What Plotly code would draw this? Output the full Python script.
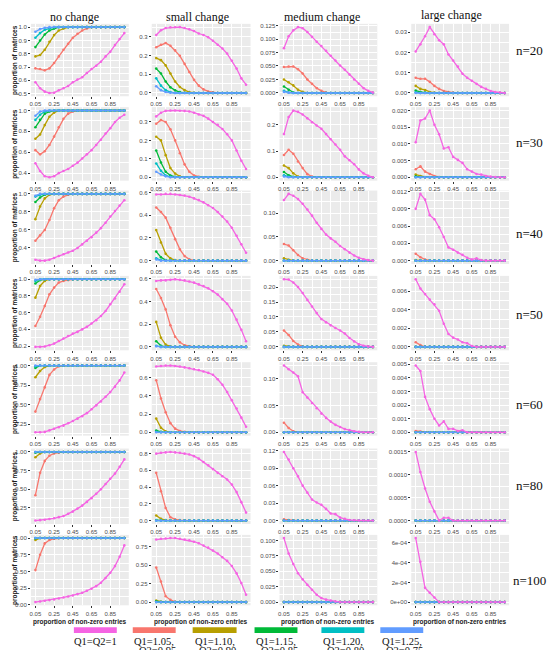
import math
import plotly.graph_objects as go

# ---------------- data ----------------
X = [0.05, 0.10, 0.15, 0.20, 0.25, 0.30, 0.35, 0.40, 0.45, 0.50,
     0.55, 0.60, 0.65, 0.70, 0.75, 0.80, 0.85, 0.90, 0.95, 1.00]
X_TICKS = [0.05, 0.25, 0.45, 0.65, 0.85]
SERIES_LINE1 = ["Q1=Q2=1", "Q1=1.05,", "Q1=1.10,", "Q1=1.15,", "Q1=1.20,", "Q1=1.25,"]
SERIES_LINE2 = ["", "Q2=0.95", "Q2=0.90", "Q2=0.85", "Q2=0.80", "Q2=0.75"]
COLUMNS = ["no change", "small change", "medium change", "large change"]
ROWS = ["n=20", "n=30", "n=40", "n=50", "n=60", "n=80", "n=100"]

# each panel: [Q1=Q2=1, 1.05, 1.10, 1.15, 1.20, 1.25]
n20_none = [
    [0.586, 0.54, 0.515, 0.505, 0.507,  0.525, 0.54, 0.557, 0.586, 0.606,  0.623, 0.655, 0.685, 0.71, 0.74,  0.78, 0.815, 0.865, 0.91, 0.955],
    [0.69, 0.685, 0.675, 0.69, 0.73,  0.78, 0.83, 0.875, 0.92, 0.95,  0.975, 0.99, 1, 1, 1,  1, 1, 1, 1, 1],
    [0.78, 0.79, 0.83, 0.89, 0.94,  0.975, 0.99, 1, 1, 1,  1, 1, 1, 1, 1,  1, 1, 1, 1, 1],
    [0.85, 0.90, 0.945, 0.975, 0.99,  1, 1, 1, 1, 1,  1, 1, 1, 1, 1,  1, 1, 1, 1, 1],
    [0.92, 0.955, 0.98, 0.99, 1,  1, 1, 1, 1, 1,  1, 1, 1, 1, 1,  1, 1, 1, 1, 1],
    [0.965, 0.985, 0.995, 1, 1,  1, 1, 1, 1, 1,  1, 1, 1, 1, 1,  1, 1, 1, 1, 1],
]
n20_small = [
    [0.309, 0.334, 0.346, 0.35, 0.35,  0.351, 0.346, 0.339, 0.33, 0.317,  0.309, 0.297, 0.278, 0.257, 0.237,  0.21, 0.172, 0.13, 0.078, 0.044],
    [0.244, 0.257, 0.266, 0.252, 0.227,  0.198, 0.155, 0.112, 0.07, 0.039,  0.019, 0.008, 0.003, 0, 0,  0, 0, 0, 0, 0],
    [0.186, 0.175, 0.147, 0.104, 0.061,  0.032, 0.015, 0.005, 0.001, 0,  0, 0, 0, 0, 0,  0, 0, 0, 0, 0],
    [0.13, 0.104, 0.061, 0.03, 0.014,  0.005, 0.001, 0, 0, 0,  0, 0, 0, 0, 0,  0, 0, 0, 0, 0],
    [0.078, 0.039, 0.015, 0.005, 0,  0, 0, 0, 0, 0,  0, 0, 0, 0, 0,  0, 0, 0, 0, 0],
    [0.036, 0.015, 0.005, 0.001, 0,  0, 0, 0, 0, 0,  0, 0, 0, 0, 0,  0, 0, 0, 0, 0],
]
n20_medium = [
    [0.083, 0.105, 0.116, 0.122, 0.120,  0.113, 0.104, 0.095, 0.087, 0.078,  0.069, 0.060, 0.051, 0.043, 0.034,  0.025, 0.017, 0.009, 0.004, 0.001],
    [0.048, 0.049, 0.049, 0.044, 0.036,  0.025, 0.017, 0.009, 0.004, 0.001,  0, 0, 0, 0, 0,  0, 0, 0, 0, 0],
    [0.025, 0.020, 0.014, 0.006, 0.002,  0, 0, 0, 0, 0,  0, 0, 0, 0, 0,  0, 0, 0, 0, 0],
    [0.012, 0.006, 0.001, 0, 0,  0, 0, 0, 0, 0,  0, 0, 0, 0, 0,  0, 0, 0, 0, 0],
    [0.004, 0.001, 0, 0, 0,  0, 0, 0, 0, 0,  0, 0, 0, 0, 0,  0, 0, 0, 0, 0],
    [0.002, 0.0005, 0, 0, 0,  0, 0, 0, 0, 0,  0, 0, 0, 0, 0,  0, 0, 0, 0, 0],
]
n20_large = [
    [0.0205, 0.024, 0.028, 0.0325, 0.029,  0.026, 0.024, 0.019, 0.016, 0.013,  0.0095, 0.0075, 0.006, 0.0045, 0.003,  0.002, 0.001, 0.0005, 0.0002, 0],
    [0.0075, 0.007, 0.007, 0.0055, 0.0035,  0.002, 0.001, 0.0005, 0.0002, 0,  0, 0, 0, 0, 0,  0, 0, 0, 0, 0],
    [0.0035, 0.002, 0.0015, 0.0005, 0.0002,  0, 0, 0, 0, 0,  0, 0, 0, 0, 0,  0, 0, 0, 0, 0],
    [0.0012, 0.0005, 0.0002, 0, 0,  0, 0, 0, 0, 0,  0, 0, 0, 0, 0,  0, 0, 0, 0, 0],
    [0.0003, 0, 0, 0, 0,  0, 0, 0, 0, 0,  0, 0, 0, 0, 0,  0, 0, 0, 0, 0],
    [0, 0, 0, 0, 0,  0, 0, 0, 0, 0,  0, 0, 0, 0, 0,  0, 0, 0, 0, 0],
]

n30_none = [
    [0.495, 0.42, 0.37, 0.36, 0.37,  0.40, 0.42, 0.44, 0.47, 0.50,  0.54, 0.58, 0.62, 0.67, 0.72,  0.78, 0.83, 0.89, 0.93, 0.96],
    [0.62, 0.58, 0.61, 0.67, 0.75,  0.84, 0.92, 0.97, 0.99, 1,  1, 1, 1, 1, 1,  1, 1, 1, 1, 1],
    [0.73, 0.77, 0.86, 0.94, 0.98,  1, 1, 1, 1, 1,  1, 1, 1, 1, 1,  1, 1, 1, 1, 1],
    [0.84, 0.91, 0.97, 0.99, 1,  1, 1, 1, 1, 1,  1, 1, 1, 1, 1,  1, 1, 1, 1, 1],
    [0.91, 0.96, 0.99, 1, 1,  1, 1, 1, 1, 1,  1, 1, 1, 1, 1,  1, 1, 1, 1, 1],
    [0.95, 0.99, 1, 1, 1,  1, 1, 1, 1, 1,  1, 1, 1, 1, 1,  1, 1, 1, 1, 1],
]
n30_small = [
    [0.33, 0.35, 0.36, 0.362, 0.362,  0.361, 0.36, 0.357, 0.35, 0.34,  0.333, 0.318, 0.30, 0.284, 0.262,  0.233, 0.20, 0.145, 0.09, 0.045],
    [0.29, 0.31, 0.30, 0.26, 0.20,  0.13, 0.07, 0.03, 0.01, 0.003,  0, 0, 0, 0, 0,  0, 0, 0, 0, 0],
    [0.22, 0.20, 0.12, 0.05, 0.02,  0.005, 0, 0, 0, 0,  0, 0, 0, 0, 0,  0, 0, 0, 0, 0],
    [0.145, 0.08, 0.03, 0.01, 0.002,  0, 0, 0, 0, 0,  0, 0, 0, 0, 0,  0, 0, 0, 0, 0],
    [0.075, 0.035, 0.01, 0.002, 0,  0, 0, 0, 0, 0,  0, 0, 0, 0, 0,  0, 0, 0, 0, 0],
    [0.03, 0.015, 0.005, 0, 0,  0, 0, 0, 0, 0,  0, 0, 0, 0, 0,  0, 0, 0, 0, 0],
]
n30_medium = [
    [0.165, 0.23, 0.255, 0.25, 0.24,  0.225, 0.21, 0.198, 0.185, 0.165,  0.145, 0.125, 0.105, 0.08, 0.065,  0.05, 0.03, 0.015, 0.006, 0],
    [0.085, 0.105, 0.09, 0.06, 0.035,  0.012, 0.003, 0, 0, 0,  0, 0, 0, 0, 0,  0, 0, 0, 0, 0],
    [0.045, 0.035, 0.015, 0.003, 0,  0, 0, 0, 0, 0,  0, 0, 0, 0, 0,  0, 0, 0, 0, 0],
    [0.02, 0.008, 0.002, 0, 0,  0, 0, 0, 0, 0,  0, 0, 0, 0, 0,  0, 0, 0, 0, 0],
    [0.008, 0.002, 0, 0, 0,  0, 0, 0, 0, 0,  0, 0, 0, 0, 0,  0, 0, 0, 0, 0],
    [0.003, 0, 0, 0, 0,  0, 0, 0, 0, 0,  0, 0, 0, 0, 0,  0, 0, 0, 0, 0],
]
n30_large = [
    [0.0105, 0.017, 0.0176, 0.020, 0.0157,  0.0129, 0.0086, 0.009, 0.0061, 0.0052,  0.0043, 0.0024, 0.0017, 0.001, 0.0008,  0.0004, 0.0002, 0.0001, 0, 0],
    [0.0024, 0.0033, 0.0017, 0.001, 0.0004,  0.0001, 0, 0, 0, 0,  0, 0, 0, 0, 0,  0, 0, 0, 0, 0],
    [0.0008, 0.0004, 0.0001, 0, 0,  0, 0, 0, 0, 0,  0, 0, 0, 0, 0,  0, 0, 0, 0, 0],
    [0.0003, 0.0001, 0, 0, 0,  0, 0, 0, 0, 0,  0, 0, 0, 0, 0,  0, 0, 0, 0, 0],
    [0, 0, 0, 0, 0,  0, 0, 0, 0, 0,  0, 0, 0, 0, 0,  0, 0, 0, 0, 0],
    [0, 0, 0, 0, 0,  0, 0, 0, 0, 0,  0, 0, 0, 0, 0,  0, 0, 0, 0, 0],
]

n40_none = [
    [0.27, 0.26, 0.26, 0.27, 0.29,  0.31, 0.33, 0.35, 0.37, 0.40,  0.44, 0.48, 0.52, 0.57, 0.62,  0.68, 0.75, 0.81, 0.87, 0.93],
    [0.48, 0.54, 0.60, 0.71, 0.84,  0.93, 0.97, 0.99, 1, 1,  1, 1, 1, 1, 1,  1, 1, 1, 1, 1],
    [0.72, 0.86, 0.95, 0.99, 1,  1, 1, 1, 1, 1,  1, 1, 1, 1, 1,  1, 1, 1, 1, 1],
    [0.91, 0.96, 0.99, 1, 1,  1, 1, 1, 1, 1,  1, 1, 1, 1, 1,  1, 1, 1, 1, 1],
    [0.97, 0.99, 1, 1, 1,  1, 1, 1, 1, 1,  1, 1, 1, 1, 1,  1, 1, 1, 1, 1],
    [0.98, 1, 1, 1, 1,  1, 1, 1, 1, 1,  1, 1, 1, 1, 1,  1, 1, 1, 1, 1],
]
n40_small = [
    [0.585, 0.585, 0.59, 0.59, 0.585,  0.58, 0.575, 0.565, 0.55, 0.535,  0.515, 0.49, 0.465, 0.43, 0.39,  0.345, 0.29, 0.22, 0.145, 0.07],
    [0.47, 0.43, 0.38, 0.29, 0.19,  0.10, 0.04, 0.012, 0.003, 0,  0, 0, 0, 0, 0,  0, 0, 0, 0, 0],
    [0.27, 0.16, 0.06, 0.02, 0.005,  0, 0, 0, 0, 0,  0, 0, 0, 0, 0,  0, 0, 0, 0, 0],
    [0.08, 0.03, 0.005, 0, 0,  0, 0, 0, 0, 0,  0, 0, 0, 0, 0,  0, 0, 0, 0, 0],
    [0.02, 0.005, 0, 0, 0,  0, 0, 0, 0, 0,  0, 0, 0, 0, 0,  0, 0, 0, 0, 0],
    [0.01, 0, 0, 0, 0,  0, 0, 0, 0, 0,  0, 0, 0, 0, 0,  0, 0, 0, 0, 0],
]
n40_medium = [
    [0.128, 0.141, 0.137, 0.13, 0.12,  0.108, 0.095, 0.08, 0.067, 0.055,  0.047, 0.04, 0.031, 0.024, 0.017,  0.011, 0.006, 0.003, 0.001, 0],
    [0.035, 0.032, 0.022, 0.012, 0.005,  0.002, 0, 0, 0, 0,  0, 0, 0, 0, 0,  0, 0, 0, 0, 0],
    [0.005, 0.002, 0, 0, 0,  0, 0, 0, 0, 0,  0, 0, 0, 0, 0,  0, 0, 0, 0, 0],
    [0, 0, 0, 0, 0,  0, 0, 0, 0, 0,  0, 0, 0, 0, 0,  0, 0, 0, 0, 0],
    [0, 0, 0, 0, 0,  0, 0, 0, 0, 0,  0, 0, 0, 0, 0,  0, 0, 0, 0, 0],
    [0, 0, 0, 0, 0,  0, 0, 0, 0, 0,  0, 0, 0, 0, 0,  0, 0, 0, 0, 0],
]
n40_large = [
    [0.009, 0.0116, 0.0106, 0.0079, 0.0072,  0.0058, 0.0041, 0.0023, 0.0019, 0.0014,  0.001, 0.0005, 0.0002, 0.0004, 0.0001,  0, 0, 0, 0, 0],
    [0.0012, 0.0006, 0.0002, 0, 0,  0, 0, 0, 0, 0,  0, 0, 0, 0, 0,  0, 0, 0, 0, 0],
    [0.0001, 0, 0, 0, 0,  0, 0, 0, 0, 0,  0, 0, 0, 0, 0,  0, 0, 0, 0, 0],
    [0, 0, 0, 0, 0,  0, 0, 0, 0, 0,  0, 0, 0, 0, 0,  0, 0, 0, 0, 0],
    [0, 0, 0, 0, 0,  0, 0, 0, 0, 0,  0, 0, 0, 0, 0,  0, 0, 0, 0, 0],
    [0, 0, 0, 0, 0,  0, 0, 0, 0, 0,  0, 0, 0, 0, 0,  0, 0, 0, 0, 0],
]

n50_none = [
    [0.19, 0.19, 0.195, 0.21, 0.23,  0.26, 0.29, 0.32, 0.35, 0.37,  0.40, 0.43, 0.47, 0.51, 0.56,  0.62, 0.70, 0.77, 0.85, 0.94],
    [0.44, 0.55, 0.68, 0.82, 0.90,  0.96, 0.98, 0.99, 1, 1,  1, 1, 1, 1, 1,  1, 1, 1, 1, 1],
    [0.78, 0.92, 0.98, 1, 1,  1, 1, 1, 1, 1,  1, 1, 1, 1, 1,  1, 1, 1, 1, 1],
    [0.95, 0.99, 1, 1, 1,  1, 1, 1, 1, 1,  1, 1, 1, 1, 1,  1, 1, 1, 1, 1],
    [0.98, 1, 1, 1, 1,  1, 1, 1, 1, 1,  1, 1, 1, 1, 1,  1, 1, 1, 1, 1],
    [0.995, 1, 1, 1, 1,  1, 1, 1, 1, 1,  1, 1, 1, 1, 1,  1, 1, 1, 1, 1],
]
n50_small = [
    [0.58, 0.585, 0.585, 0.59, 0.595,  0.59, 0.585, 0.575, 0.565, 0.55,  0.535, 0.515, 0.49, 0.46, 0.42,  0.38, 0.32, 0.24, 0.15, 0.05],
    [0.51, 0.43, 0.33, 0.19, 0.09,  0.04, 0.015, 0.005, 0, 0,  0, 0, 0, 0, 0,  0, 0, 0, 0, 0],
    [0.22, 0.08, 0.02, 0.005, 0,  0, 0, 0, 0, 0,  0, 0, 0, 0, 0,  0, 0, 0, 0, 0],
    [0.05, 0.01, 0, 0, 0,  0, 0, 0, 0, 0,  0, 0, 0, 0, 0,  0, 0, 0, 0, 0],
    [0.01, 0, 0, 0, 0,  0, 0, 0, 0, 0,  0, 0, 0, 0, 0,  0, 0, 0, 0, 0],
    [0.005, 0, 0, 0, 0,  0, 0, 0, 0, 0,  0, 0, 0, 0, 0,  0, 0, 0, 0, 0],
]
n50_medium = [
    [0.226, 0.225, 0.215, 0.2, 0.18,  0.157, 0.135, 0.113, 0.093, 0.082,  0.072, 0.063, 0.055, 0.045, 0.03,  0.018, 0.009, 0.004, 0.001, 0],
    [0.055, 0.04, 0.02, 0.008, 0.002,  0, 0, 0, 0, 0,  0, 0, 0, 0, 0,  0, 0, 0, 0, 0],
    [0.004, 0.001, 0, 0, 0,  0, 0, 0, 0, 0,  0, 0, 0, 0, 0,  0, 0, 0, 0, 0],
    [0, 0, 0, 0, 0,  0, 0, 0, 0, 0,  0, 0, 0, 0, 0,  0, 0, 0, 0, 0],
    [0, 0, 0, 0, 0,  0, 0, 0, 0, 0,  0, 0, 0, 0, 0,  0, 0, 0, 0, 0],
    [0, 0, 0, 0, 0,  0, 0, 0, 0, 0,  0, 0, 0, 0, 0,  0, 0, 0, 0, 0],
]
n50_large = [
    [0.0073, 0.0063, 0.0057, 0.0051, 0.0046,  0.0039, 0.0025, 0.0014, 0.001, 0.0008,  0.0005, 0.0004, 0.0001, 0, 0,  0, 0, 0, 0, 0],
    [0.0005, 0.0002, 0, 0, 0,  0, 0, 0, 0, 0,  0, 0, 0, 0, 0,  0, 0, 0, 0, 0],
    [0, 0, 0, 0, 0,  0, 0, 0, 0, 0,  0, 0, 0, 0, 0,  0, 0, 0, 0, 0],
    [0, 0, 0, 0, 0,  0, 0, 0, 0, 0,  0, 0, 0, 0, 0,  0, 0, 0, 0, 0],
    [0, 0, 0, 0, 0,  0, 0, 0, 0, 0,  0, 0, 0, 0, 0,  0, 0, 0, 0, 0],
    [0, 0, 0, 0, 0,  0, 0, 0, 0, 0,  0, 0, 0, 0, 0,  0, 0, 0, 0, 0],
]

n60_none = [
    [0.145, 0.145, 0.15, 0.17, 0.19,  0.21, 0.23, 0.26, 0.29, 0.32,  0.35, 0.39, 0.44, 0.49, 0.54,  0.60, 0.66, 0.73, 0.81, 0.91],
    [0.41, 0.57, 0.72, 0.88, 0.95,  0.99, 1, 1, 1, 1,  1, 1, 1, 1, 1,  1, 1, 1, 1, 1],
    [0.85, 0.93, 0.98, 1, 1,  1, 1, 1, 1, 1,  1, 1, 1, 1, 1,  1, 1, 1, 1, 1],
    [0.97, 1, 1, 1, 1,  1, 1, 1, 1, 1,  1, 1, 1, 1, 1,  1, 1, 1, 1, 1],
    [0.99, 1, 1, 1, 1,  1, 1, 1, 1, 1,  1, 1, 1, 1, 1,  1, 1, 1, 1, 1],
    [1, 1, 1, 1, 1,  1, 1, 1, 1, 1,  1, 1, 1, 1, 1,  1, 1, 1, 1, 1],
]
n60_small = [
    [0.72, 0.725, 0.73, 0.73, 0.725,  0.72, 0.71, 0.70, 0.69, 0.68,  0.665, 0.65, 0.63, 0.58, 0.52,  0.44, 0.35, 0.26, 0.16, 0.06],
    [0.57, 0.37, 0.22, 0.10, 0.04,  0.015, 0.005, 0, 0, 0,  0, 0, 0, 0, 0,  0, 0, 0, 0, 0],
    [0.15, 0.05, 0.01, 0, 0,  0, 0, 0, 0, 0,  0, 0, 0, 0, 0,  0, 0, 0, 0, 0],
    [0.02, 0.005, 0, 0, 0,  0, 0, 0, 0, 0,  0, 0, 0, 0, 0,  0, 0, 0, 0, 0],
    [0.005, 0, 0, 0, 0,  0, 0, 0, 0, 0,  0, 0, 0, 0, 0,  0, 0, 0, 0, 0],
    [0, 0, 0, 0, 0,  0, 0, 0, 0, 0,  0, 0, 0, 0, 0,  0, 0, 0, 0, 0],
]
n60_medium = [
    [0.125, 0.118, 0.112, 0.105, 0.075,  0.065, 0.055, 0.045, 0.035, 0.027,  0.02, 0.014, 0.01, 0.006, 0.004,  0.002, 0.001, 0, 0, 0],
    [0.018, 0.008, 0.002, 0, 0,  0, 0, 0, 0, 0,  0, 0, 0, 0, 0,  0, 0, 0, 0, 0],
    [0, 0, 0, 0, 0,  0, 0, 0, 0, 0,  0, 0, 0, 0, 0,  0, 0, 0, 0, 0],
    [0, 0, 0, 0, 0,  0, 0, 0, 0, 0,  0, 0, 0, 0, 0,  0, 0, 0, 0, 0],
    [0, 0, 0, 0, 0,  0, 0, 0, 0, 0,  0, 0, 0, 0, 0,  0, 0, 0, 0, 0],
    [0, 0, 0, 0, 0,  0, 0, 0, 0, 0,  0, 0, 0, 0, 0,  0, 0, 0, 0, 0],
]
n60_large = [
    [0.0049, 0.0045, 0.0026, 0.0017, 0.001,  0.0005, 0.0008, 0.00025, 0.00025, 0.0001,  0.00015, 0, 0, 0, 0,  0, 0, 0, 0, 0],
    [0.0001, 0.00005, 0, 0, 0,  0, 0, 0, 0, 0,  0, 0, 0, 0, 0,  0, 0, 0, 0, 0],
    [0, 0, 0, 0, 0,  0, 0, 0, 0, 0,  0, 0, 0, 0, 0,  0, 0, 0, 0, 0],
    [0, 0, 0, 0, 0,  0, 0, 0, 0, 0,  0, 0, 0, 0, 0,  0, 0, 0, 0, 0],
    [0, 0, 0, 0, 0,  0, 0, 0, 0, 0,  0, 0, 0, 0, 0,  0, 0, 0, 0, 0],
    [0, 0, 0, 0, 0,  0, 0, 0, 0, 0,  0, 0, 0, 0, 0,  0, 0, 0, 0, 0],
]

n80_none = [
    [0.08, 0.085, 0.09, 0.10, 0.11,  0.125, 0.14, 0.17, 0.20, 0.24,  0.28, 0.33, 0.38, 0.44, 0.50,  0.57, 0.64, 0.71, 0.80, 0.90],
    [0.42, 0.72, 0.88, 0.95, 0.98,  0.99, 1, 1, 1, 1,  1, 1, 1, 1, 1,  1, 1, 1, 1, 1],
    [0.93, 0.98, 1, 1, 1,  1, 1, 1, 1, 1,  1, 1, 1, 1, 1,  1, 1, 1, 1, 1],
    [0.99, 1, 1, 1, 1,  1, 1, 1, 1, 1,  1, 1, 1, 1, 1,  1, 1, 1, 1, 1],
    [1, 1, 1, 1, 1,  1, 1, 1, 1, 1,  1, 1, 1, 1, 1,  1, 1, 1, 1, 1],
    [1, 1, 1, 1, 1,  1, 1, 1, 1, 1,  1, 1, 1, 1, 1,  1, 1, 1, 1, 1],
]
n80_small = [
    [0.80, 0.81, 0.815, 0.82, 0.815,  0.81, 0.80, 0.79, 0.77, 0.74,  0.70, 0.66, 0.615, 0.57, 0.53,  0.49, 0.43, 0.34, 0.22, 0.095],
    [0.57, 0.35, 0.15, 0.04, 0.015,  0.005, 0, 0, 0, 0,  0, 0, 0, 0, 0,  0, 0, 0, 0, 0],
    [0.06, 0.02, 0.005, 0, 0,  0, 0, 0, 0, 0,  0, 0, 0, 0, 0,  0, 0, 0, 0, 0],
    [0.005, 0, 0, 0, 0,  0, 0, 0, 0, 0,  0, 0, 0, 0, 0,  0, 0, 0, 0, 0],
    [0, 0, 0, 0, 0,  0, 0, 0, 0, 0,  0, 0, 0, 0, 0,  0, 0, 0, 0, 0],
    [0, 0, 0, 0, 0,  0, 0, 0, 0, 0,  0, 0, 0, 0, 0,  0, 0, 0, 0, 0],
]
n80_medium = [
    [0.118, 0.105, 0.09, 0.076, 0.06,  0.048, 0.036, 0.031, 0.027, 0.02,  0.012, 0.011, 0.005, 0.003, 0.001,  0.0005, 0, 0, 0, 0],
    [0.002, 0.001, 0, 0, 0,  0, 0, 0, 0, 0,  0, 0, 0, 0, 0,  0, 0, 0, 0, 0],
    [0, 0, 0, 0, 0,  0, 0, 0, 0, 0,  0, 0, 0, 0, 0,  0, 0, 0, 0, 0],
    [0, 0, 0, 0, 0,  0, 0, 0, 0, 0,  0, 0, 0, 0, 0,  0, 0, 0, 0, 0],
    [0, 0, 0, 0, 0,  0, 0, 0, 0, 0,  0, 0, 0, 0, 0,  0, 0, 0, 0, 0],
    [0, 0, 0, 0, 0,  0, 0, 0, 0, 0,  0, 0, 0, 0, 0,  0, 0, 0, 0, 0],
]
n80_large = [
    [0.0015, 0.00106, 0.0007, 0.00041, 0.0002,  0, 0.00006, 0.00006, 0, 0,  0, 0, 0, 0, 0,  0, 0, 0, 0, 0],
    [0, 0, 0, 0, 0,  0, 0, 0, 0, 0,  0, 0, 0, 0, 0,  0, 0, 0, 0, 0],
    [0, 0, 0, 0, 0,  0, 0, 0, 0, 0,  0, 0, 0, 0, 0,  0, 0, 0, 0, 0],
    [0, 0, 0, 0, 0,  0, 0, 0, 0, 0,  0, 0, 0, 0, 0,  0, 0, 0, 0, 0],
    [0, 0, 0, 0, 0,  0, 0, 0, 0, 0,  0, 0, 0, 0, 0,  0, 0, 0, 0, 0],
    [0, 0, 0, 0, 0,  0, 0, 0, 0, 0,  0, 0, 0, 0, 0,  0, 0, 0, 0, 0],
]

n100_none = [
    [0.04, 0.05, 0.06, 0.07, 0.08,  0.095, 0.11, 0.125, 0.14, 0.16,  0.18, 0.21, 0.24, 0.28, 0.33,  0.40, 0.48, 0.58, 0.72, 0.89],
    [0.52, 0.75, 0.92, 0.97, 0.99,  1, 1, 1, 1, 1,  1, 1, 1, 1, 1,  1, 1, 1, 1, 1],
    [0.97, 1, 1, 1, 1,  1, 1, 1, 1, 1,  1, 1, 1, 1, 1,  1, 1, 1, 1, 1],
    [0.995, 1, 1, 1, 1,  1, 1, 1, 1, 1,  1, 1, 1, 1, 1,  1, 1, 1, 1, 1],
    [1, 1, 1, 1, 1,  1, 1, 1, 1, 1,  1, 1, 1, 1, 1,  1, 1, 1, 1, 1],
    [1, 1, 1, 1, 1,  1, 1, 1, 1, 1,  1, 1, 1, 1, 1,  1, 1, 1, 1, 1],
]
n100_small = [
    [0.85, 0.86, 0.865, 0.87, 0.87,  0.86, 0.85, 0.84, 0.82, 0.80,  0.77, 0.74, 0.70, 0.66, 0.61,  0.56, 0.49, 0.39, 0.26, 0.10],
    [0.47, 0.28, 0.08, 0.03, 0.005,  0, 0, 0, 0, 0,  0, 0, 0, 0, 0,  0, 0, 0, 0, 0],
    [0.02, 0.005, 0, 0, 0,  0, 0, 0, 0, 0,  0, 0, 0, 0, 0,  0, 0, 0, 0, 0],
    [0.01, 0, 0, 0, 0,  0, 0, 0, 0, 0,  0, 0, 0, 0, 0,  0, 0, 0, 0, 0],
    [0, 0, 0, 0, 0,  0, 0, 0, 0, 0,  0, 0, 0, 0, 0,  0, 0, 0, 0, 0],
    [0, 0, 0, 0, 0,  0, 0, 0, 0, 0,  0, 0, 0, 0, 0,  0, 0, 0, 0, 0],
]
n100_medium = [
    [0.104, 0.079, 0.062, 0.047, 0.037,  0.028, 0.02, 0.012, 0.0065, 0.004,  0.0025, 0.001, 0, 0, 0,  0, 0, 0, 0, 0],
    [0, 0, 0, 0, 0,  0, 0, 0, 0, 0,  0, 0, 0, 0, 0,  0, 0, 0, 0, 0],
    [0, 0, 0, 0, 0,  0, 0, 0, 0, 0,  0, 0, 0, 0, 0,  0, 0, 0, 0, 0],
    [0, 0, 0, 0, 0,  0, 0, 0, 0, 0,  0, 0, 0, 0, 0,  0, 0, 0, 0, 0],
    [0, 0, 0, 0, 0,  0, 0, 0, 0, 0,  0, 0, 0, 0, 0,  0, 0, 0, 0, 0],
    [0, 0, 0, 0, 0,  0, 0, 0, 0, 0,  0, 0, 0, 0, 0,  0, 0, 0, 0, 0],
]
n100_large = [
    [0.00065, 0.00041, 0.000145, 0.000095, 0.000047,  0, 0, 0, 0, 0,  0, 0, 0, 0, 0,  0, 0, 0, 0, 0],
    [0, 0, 0, 0, 0,  0, 0, 0, 0, 0,  0, 0, 0, 0, 0,  0, 0, 0, 0, 0],
    [0, 0, 0, 0, 0,  0, 0, 0, 0, 0,  0, 0, 0, 0, 0,  0, 0, 0, 0, 0],
    [0, 0, 0, 0, 0,  0, 0, 0, 0, 0,  0, 0, 0, 0, 0,  0, 0, 0, 0, 0],
    [0, 0, 0, 0, 0,  0, 0, 0, 0, 0,  0, 0, 0, 0, 0,  0, 0, 0, 0, 0],
    [0, 0, 0, 0, 0,  0, 0, 0, 0, 0,  0, 0, 0, 0, 0,  0, 0, 0, 0, 0],
]

PANELS = [
    [n20_none, n20_small, n20_medium, n20_large],
    [n30_none, n30_small, n30_medium, n30_large],
    [n40_none, n40_small, n40_medium, n40_large],
    [n50_none, n50_small, n50_medium, n50_large],
    [n60_none, n60_small, n60_medium, n60_large],
    [n80_none, n80_small, n80_medium, n80_large],
    [n100_none, n100_small, n100_medium, n100_large],
]

# ---------------- style / layout ----------------
W, H = 553, 650
COLORS = ["#F564E3", "#F8766D", "#B79F00", "#00BA38", "#00BFC4", "#619CFF"]
DRAW_ORDER = [1, 2, 3, 4, 5, 0]
COL_X = [(30, 128), (151, 250), (279, 377), (411, 509)]
ROW_Y = [(22, 95), (106, 180), (190, 264), (276, 351), (363, 437), (450, 526), (537, 608)]
ROW_LABEL_Y = [49, 142, 233, 315, 406, 487, 583]
DTICK = [[0.1, 0.1, 0.025, 0.01], [0.2, 0.1, 0.1, 0.005], [0.2, 0.2, 0.05, 0.003],
         [0.2, 0.2, 0.05, 0.002], [0.25, 0.2, 0.05, 0.001], [0.25, 0.2, 0.03, 0.0005],
         [0.25, 0.25, 0.025, 0.0002]]
DEC = [[1, 1, 3, 2], [1, 1, 1, 3], [1, 1, 2, 3], [1, 1, 2, 3], [2, 1, 2, 3],
       [2, 1, 2, 4], [2, 2, 3, "e"]]
SANS = "Liberation Sans, Arial, sans-serif"
SERIF = "Liberation Serif, Times New Roman, serif"
TICKFONT = dict(family=SANS, size=6, color="#4D4D4D")
XRANGE = [0.0025, 1.0475]


def px(x):
    return x / W


def py(y):
    return 1 - y / H


def tick_list(lo, hi, d):
    k0 = math.ceil(lo / d - 1e-9)
    k1 = math.floor(hi / d + 1e-9)
    return [round(k * d, 10) for k in range(k0, k1 + 1)]


def fmt(v, dec):
    if dec == "e":
        return f"{v:.0e}"
    return f"{v:.{dec}f}"


fig = go.Figure()
layout = {}
annotations = []
idx = 0
for r, row in enumerate(PANELS):
    for c, panel in enumerate(row):
        idx += 1
        for s in panel:
            assert len(s) == len(X), (r, c, len(s))
        sfx = "" if idx == 1 else str(idx)
        lo = min(min(s) for s in panel)
        hi = max(max(s) for s in panel)
        pad = 0.05 * (hi - lo)
        yr = [lo - pad, hi + pad]
        d = DTICK[r][c]
        tv = tick_list(yr[0], yr[1], d)
        mv = [v for v in tick_list(yr[0] - d / 2, yr[1] + d / 2, d / 2)
              if v not in tv and yr[0] <= v <= yr[1]]
        for k in DRAW_ORDER:
            fig.add_trace(go.Scatter(
                x=X, y=panel[k], mode="lines+markers",
                line=dict(color=COLORS[k], width=1.3),
                marker=dict(color=COLORS[k], size=2.6),
                xaxis="x" + sfx, yaxis="y" + sfx, showlegend=False,
                hoverinfo="skip"))
        x0, x1 = COL_X[c]
        y0, y1 = ROW_Y[r]
        layout["xaxis" + sfx] = dict(
            domain=[px(x0), px(x1)], range=XRANGE, anchor="y" + sfx,
            tickvals=X_TICKS, ticktext=[f"{v:.2f}" for v in X_TICKS],
            tickfont=TICKFONT, ticks="outside", ticklen=2, tickcolor="#333333",
            tickwidth=0.6, showgrid=True, gridcolor="white", gridwidth=0.9,
            zeroline=False, showline=False,
            minor=dict(tickvals=[0.15, 0.35, 0.55, 0.75, 0.95], showgrid=True,
                       gridcolor="white", gridwidth=0.4, ticks=""))
        layout["yaxis" + sfx] = dict(
            domain=[py(y1), py(y0)], range=yr, anchor="x" + sfx,
            tickvals=tv, ticktext=[fmt(v, DEC[r][c]) for v in tv],
            tickfont=TICKFONT, ticks="outside", ticklen=2, tickcolor="#333333",
            tickwidth=0.6, showgrid=True, gridcolor="white", gridwidth=0.9,
            zeroline=False, showline=False,
            minor=dict(tickvals=mv, showgrid=True, gridcolor="white",
                       gridwidth=0.4, ticks=""))
        if r == len(PANELS) - 1:
            annotations.append(dict(
                text="<b>proportion of non-zero entries</b>", x=px((x0 + x1) / 2),
                y=py(619), xref="paper", yref="paper", showarrow=False,
                font=dict(family=SANS, size=6.5, color="#1A1A1A"),
                xanchor="center", yanchor="top"))
    # y title on first column
    y0, y1 = ROW_Y[r]
    annotations.append(dict(
        text="<b>proportion of matrices</b>", x=px(14), y=py((y0 + y1) / 2),
        xref="paper", yref="paper", showarrow=False, textangle=-90,
        font=dict(family=SANS, size=6.5, color="#1A1A1A"),
        xanchor="center", yanchor="middle"))
    annotations.append(dict(
        text=ROWS[r], x=px(529), y=py(ROW_LABEL_Y[r]), xref="paper", yref="paper",
        showarrow=False, font=dict(family=SERIF, size=13, color="#111111"),
        xanchor="center", yanchor="middle"))

# column titles
TITLE_POS = [(74, 15), (197, 15), (322, 15), (451, 13)]
for c, name in enumerate(COLUMNS):
    annotations.append(dict(
        text=name, x=px(TITLE_POS[c][0]), y=py(TITLE_POS[c][1]),
        xref="paper", yref="paper", showarrow=False,
        font=dict(family=SERIF, size=12, color="#111111"),
        xanchor="center", yanchor="middle"))

# legend (manual, as in the figure; its second text line runs off the bottom edge)
LEG_X = [(73, 116), (132, 175), (192, 236), (254, 297), (321, 364), (380, 423)]
shapes = []
for k, (a, b) in enumerate(LEG_X):
    shapes.append(dict(type="rect", xref="paper", yref="paper",
                       x0=px(a), x1=px(b), y0=py(636), y1=py(630),
                       fillcolor=COLORS[k], line=dict(width=0)))
    annotations.append(dict(
        text=SERIES_LINE1[k], x=px((a + b) / 2), y=py(636.5), xref="paper",
        yref="paper", showarrow=False,
        font=dict(family=SERIF, size=10.5, color="#111111"),
        xanchor="center", yanchor="top"))
    if SERIES_LINE2[k]:
        annotations.append(dict(
            text=SERIES_LINE2[k], x=px(a + 4), y=py(645.5), xref="paper",
            yref="paper", showarrow=False,
            font=dict(family=SERIF, size=10.5, color="#111111"),
            xanchor="left", yanchor="top"))

fig.update_layout(
    width=W, height=H, autosize=False,
    margin=dict(l=0, r=0, t=0, b=0),
    paper_bgcolor="white", plot_bgcolor="#EBEBEB",
    annotations=annotations, shapes=shapes, showlegend=False,
    **layout)

fig.write_html(
    "out.html",
    config={"displayModeBar": False},
    post_script="document.body.style.margin='0';document.body.style.padding='0';"
                "document.documentElement.style.overflow='hidden';")
